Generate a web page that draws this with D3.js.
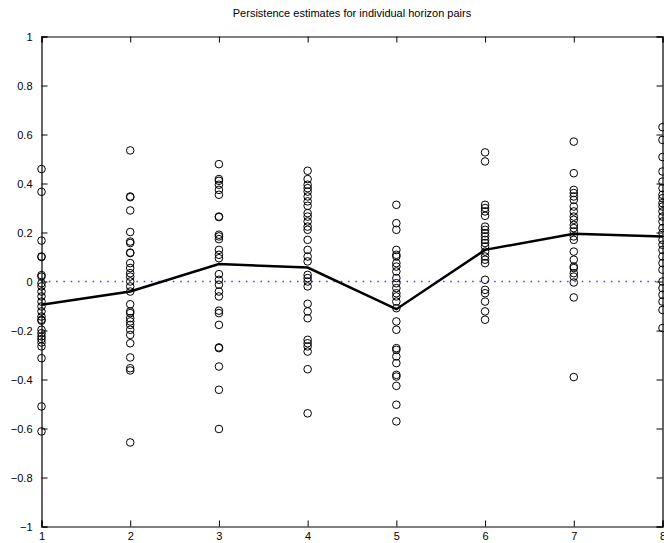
<!DOCTYPE html>
<meta charset="utf-8">
<head>
  <style>
    body { margin: 0; background: #fff; }
    #chart text { font-family: "Liberation Sans", Arial, sans-serif; }
  </style>
</head>
<body>
<div id="chart"></div>
<script src="https://d3js.org/d3.v7.min.js"></script>
<script>

// horizon pairs on the x axis
var horizons = [1, 2, 3, 4, 5, 6, 7, 8];
var xTicks = [1, 2, 3, 4, 5, 6, 7, 8];
var yTicks = [-1, -0.8, -0.6, -0.4, -0.2, 0, 0.2, 0.4, 0.6, 0.8, 1];

// persistence estimates, one array per horizon
var est1 = [0.459, 0.366, 0.167, 0.102, 0.100, 0.026, 0.020, -0.007, -0.020, -0.041, -0.061, -0.082,
  -0.102, -0.122, -0.143, -0.156, -0.160, -0.197, -0.211, -0.224, -0.235, -0.249, -0.265, -0.313, -0.510, -0.612];
var est2 = [0.535, 0.347, 0.344, 0.290, 0.202, 0.163, 0.157, 0.118, 0.116, 0.075, 0.055, 0.034, 0.020, 0.000,
  -0.020, -0.041, -0.093, -0.122, -0.129, -0.150, -0.163, -0.177, -0.197, -0.218, -0.252, -0.310, -0.354, -0.363, -0.657];
var est3 = [0.479, 0.418, 0.411, 0.395, 0.374, 0.354, 0.265, 0.263, 0.191, 0.184, 0.173, 0.129, 0.109, 0.095,
  0.030, 0.007, -0.013, -0.041, -0.061, -0.119, -0.129, -0.177, -0.269, -0.272, -0.347, -0.442, -0.602];
var est4 = [0.452, 0.418, 0.395, 0.381, 0.367, 0.347, 0.327, 0.309, 0.279, 0.265, 0.245, 0.224, 0.211, 0.170,
  0.129, 0.102, 0.082, 0.027, 0.014, 0.000, -0.020, -0.091, -0.122, -0.150, -0.238, -0.252, -0.265, -0.286, -0.358, -0.538];
var est5 = [0.313, 0.238, 0.211, 0.129, 0.109, 0.102, 0.075, 0.061, 0.041, 0.014, -0.007, -0.027, -0.048,
  -0.061, -0.082, -0.109, -0.163, -0.197, -0.272, -0.279, -0.306, -0.333, -0.381, -0.388, -0.426, -0.503, -0.571];
var est6 = [0.527, 0.490, 0.313, 0.300, 0.286, 0.268, 0.224, 0.211, 0.197, 0.184, 0.170, 0.157, 0.143, 0.122,
  0.102, 0.089, 0.075, 0.007, -0.034, -0.048, -0.082, -0.122, -0.156];
var est7 = [0.571, 0.442, 0.374, 0.361, 0.347, 0.333, 0.306, 0.286, 0.265, 0.252, 0.231, 0.218, 0.204, 0.184,
  0.170, 0.122, 0.089, 0.061, 0.055, 0.034, 0.020, -0.004, -0.065, -0.390];
var est8 = [0.630, 0.578, 0.508, 0.449, 0.408, 0.381, 0.354, 0.340, 0.320, 0.306, 0.286, 0.265, 0.245, 0.218,
  0.198, 0.170, 0.150, 0.129, 0.102, 0.075, 0.048, 0.000, -0.027, -0.054, -0.082, -0.116, -0.190];

// thick line across horizons (average estimate)
var average = [-0.095, -0.041, 0.071, 0.057, -0.113, 0.129, 0.195, 0.184];

var margin = {top: 36.5, right: 1.5, bottom: 16.5, left: 41.5},
    W = 664, H = 543,
    width = W - margin.left - margin.right,
    height = H - margin.top - margin.bottom;

var svg = d3.select("#chart")
  .append("svg")
    .attr("width", W)
    .attr("height", H)
  .append("g")
    .attr("transform", "translate(" + margin.left + "," + margin.top + ")");

var x = d3.scaleLinear().domain([1, 8]).range([0, width]);
var y = d3.scaleLinear().domain([-1, 1]).range([height, 0]);

var fmt = function(d) { return d === 0 ? "0" : d3.format("~g")(d); };

// title
svg.append("text")
  .attr("x", width / 2)
  .attr("y", -20)
  .attr("text-anchor", "middle")
  .style("font-size", "11px")
  .text("Persistence estimates for individual horizon pairs");

// zero reference line (blue dotted)
svg.append("line")
  .attr("x1", x(1)).attr("x2", x(8))
  .attr("y1", y(0)).attr("y2", y(0))
  .attr("stroke", "#3c3cff")
  .attr("stroke-width", 1.3)
  .attr("stroke-dasharray", "1.5,5.8");

// circles
var sets = [est1, est2, est3, est4, est5, est6, est7, est8];
var pts = [];
sets.forEach(function(arr, i) {
  arr.forEach(function(v) { pts.push({h: horizons[i], v: v}); });
});

svg.selectAll("circle.pt")
  .data(pts)
  .enter()
  .append("circle")
    .attr("class", "pt")
    .attr("cx", function(d) { return x(d.h); })
    .attr("cy", function(d) { return y(d.v); })
    .attr("r", 3.8)
    .attr("fill", "none")
    .attr("stroke", "#000")
    .attr("stroke-width", 1);

// average line
var line = d3.line()
  .x(function(d, i) { return x(horizons[i]); })
  .y(function(d) { return y(d); });

svg.append("path")
  .datum(average)
  .attr("d", line)
  .attr("fill", "none")
  .attr("stroke", "#000")
  .attr("stroke-width", 2.5);

// axes, ticks inside on every side
var gx = svg.append("g")
  .attr("transform", "translate(0," + height + ")")
  .call(d3.axisBottom(x).tickValues(xTicks).tickSize(-6).tickPadding(6).tickFormat(fmt));
var gy = svg.append("g")
  .call(d3.axisLeft(y).tickValues(yTicks).tickSize(-6).tickPadding(9).tickFormat(fmt));
var gt = svg.append("g")
  .call(d3.axisTop(x).tickValues(xTicks).tickSize(-6).tickFormat(""));
var gr = svg.append("g")
  .attr("transform", "translate(" + width + ",0)")
  .call(d3.axisRight(y).tickValues(yTicks).tickSize(-6).tickFormat(""));

[gx, gy, gt, gr].forEach(function(g) {
  g.select(".domain").attr("stroke", "#000").attr("stroke-width", 1.2);
  g.selectAll(".tick line").attr("stroke", "#000");
  g.selectAll("text").style("font-size", "11px").attr("fill", "#000");
});

</script>
</body>
